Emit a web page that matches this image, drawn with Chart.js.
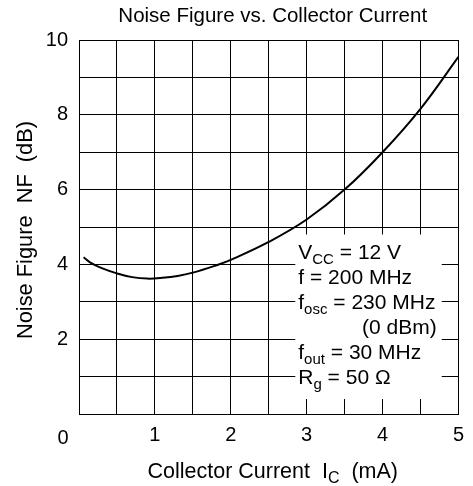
<!DOCTYPE html>
<html>
<head>
<meta charset="utf-8">
<script src="https://cdn.jsdelivr.net/npm/chart.js@4"></script>
<style>
html,body{margin:0;padding:0;background:#fff;}
#wrap{width:473px;height:486px;position:relative;}
</style>
</head>
<body>
<div id="wrap"><canvas id="c" width="473" height="486"></canvas></div>
<script>
// Data
const collectorCurrent = [0.06, 0.15, 0.3, 0.5, 0.7, 0.9, 1.1, 1.3, 1.5, 1.8, 2.0, 2.5, 3.0, 3.5, 4.0, 4.5, 5.0];
const noiseFigure      = [4.19, 4.05, 3.9, 3.76, 3.66, 3.62, 3.64, 3.69, 3.78, 3.97, 4.12, 4.6, 5.2, 6.0, 7.0, 8.16, 9.55];
const xTickLabels = [1, 2, 3, 4, 5];
const yTickLabels = [2, 4, 6, 8, 10];
const originLabel = '0';
const chartTitle = 'Noise Figure vs. Collector Current';
const yTitle = 'Noise Figure  NF  (dB)';
const xTitleParts = [{t:'Collector Current  I'}, {t:'C', sub:true}, {t:'  (mA)'}];
const conditions = [
  [{t:'V'}, {t:'CC', sub:true}, {t:' = 12 V'}],
  [{t:'f = 200 MHz'}],
  [{t:'f'}, {t:'osc', sub:true}, {t:' = 230 MHz'}],
  [{t:'(0 dBm)', right:true}],
  [{t:'f'}, {t:'out', sub:true}, {t:' = 30 MHz'}],
  [{t:'R'}, {t:'g', sub:true}, {t:' = 50 \u03A9'}]
];

const FAM = "'Liberation Sans', Arial, Helvetica, sans-serif";
const FS = 20;

function partsWidth(ctx, parts, fs, sfs){
  let w = 0;
  for (const p of parts){
    ctx.font = (p.sub ? sfs : fs) + 'px ' + FAM;
    w += ctx.measureText(p.t).width;
  }
  return w;
}
function drawParts(ctx, parts, x, y, fs, sfs){
  for (const p of parts){
    ctx.font = (p.sub ? sfs : fs) + 'px ' + FAM;
    ctx.fillText(p.t, x, p.sub ? y + 5 : y);
    x += ctx.measureText(p.t).width;
  }
}

const textPlugin = {
  id: 'textPlugin',
  beforeDatasetsDraw(chart){
    const ctx = chart.ctx;
    const xs = chart.scales.x, ys = chart.scales.y;
    const bx0 = xs.getPixelForValue(2.85), bx1 = xs.getPixelForValue(4.78);
    const by0 = ys.getPixelForValue(4.8), by1 = ys.getPixelForValue(0.4);
    ctx.save();
    ctx.fillStyle = '#fff';
    ctx.fillRect(bx0, by0, bx1 - bx0, by1 - by0);
    ctx.fillStyle = '#000';
    ctx.textBaseline = 'alphabetic';
    ctx.textAlign = 'left';
    let y = ys.getPixelForValue(4.0) - 5;
    const tx = bx0 + 3;
    for (const line of conditions){
      if (line[0].right){
        const w = partsWidth(ctx, line, 21, 15);
        drawParts(ctx, line, bx1 - 5 - w, y, 21, 15);
      } else {
        drawParts(ctx, line, tx, y, 21, 15);
      }
      y += 25;
    }
    ctx.restore();
  },
  afterDraw(chart){
    const ctx = chart.ctx;
    const a = chart.chartArea;
    ctx.save();
    ctx.fillStyle = '#000';
    ctx.textBaseline = 'alphabetic';
    ctx.font = '20.5px ' + FAM;
    ctx.textAlign = 'center';
    ctx.fillText(chartTitle, (a.left + a.right) / 2 + 4, 22);
    ctx.font = FS + 'px ' + FAM;
    ctx.fillText(originLabel, a.left - 16, a.bottom + 30);
    ctx.textAlign = 'left';
    const w = partsWidth(ctx, xTitleParts, 21.5, 16);
    drawParts(ctx, xTitleParts, (a.left + a.right) / 2 + 4 - w / 2, 478, 21.5, 16);
    ctx.translate(32, 230);
    ctx.rotate(-Math.PI / 2);
    ctx.textAlign = 'center';
    ctx.font = '21.8px ' + FAM;
    ctx.fillText(yTitle, 0, 0);
    ctx.restore();
  }
};

new Chart(document.getElementById('c'), {
  type: 'scatter',
  data: {
    datasets: [{
      data: collectorCurrent.map((x, i) => ({x: x, y: noiseFigure[i]})),
      showLine: true,
      borderColor: '#000',
      borderWidth: 2,
      pointRadius: 0,
      tension: 0.4,
      fill: false
    }]
  },
  options: {
    responsive: false,
    animation: false,
    layout: { padding: { top: 40, right: 14, bottom: 0, left: 0 } },
    plugins: { legend: { display: false }, title: { display: false }, tooltip: { enabled: false } },
    scales: {
      x: {
        type: 'linear', min: 0, max: 5,
        afterFit(s){ s.height = 72; },
        border: { display: true, color: '#000', width: 1 },
        grid: { color: '#000', lineWidth: 1, drawTicks: false },
        ticks: {
          stepSize: 0.5, padding: 9, color: '#000', maxRotation: 0, autoSkip: false,
          font: { family: FAM, size: FS },
          callback: v => xTickLabels.includes(v) ? String(v) : ''
        }
      },
      y: {
        type: 'linear', min: 0, max: 10,
        afterFit(s){ s.width = 79; },
        border: { display: true, color: '#000', width: 1 },
        grid: { color: '#000', lineWidth: 1, drawTicks: false },
        ticks: {
          stepSize: 1, padding: 11, color: '#000', autoSkip: false,
          font: { family: FAM, size: FS },
          callback: v => yTickLabels.includes(v) ? String(v) : ''
        }
      }
    }
  },
  plugins: [textPlugin]
});
</script>
</body>
</html>
